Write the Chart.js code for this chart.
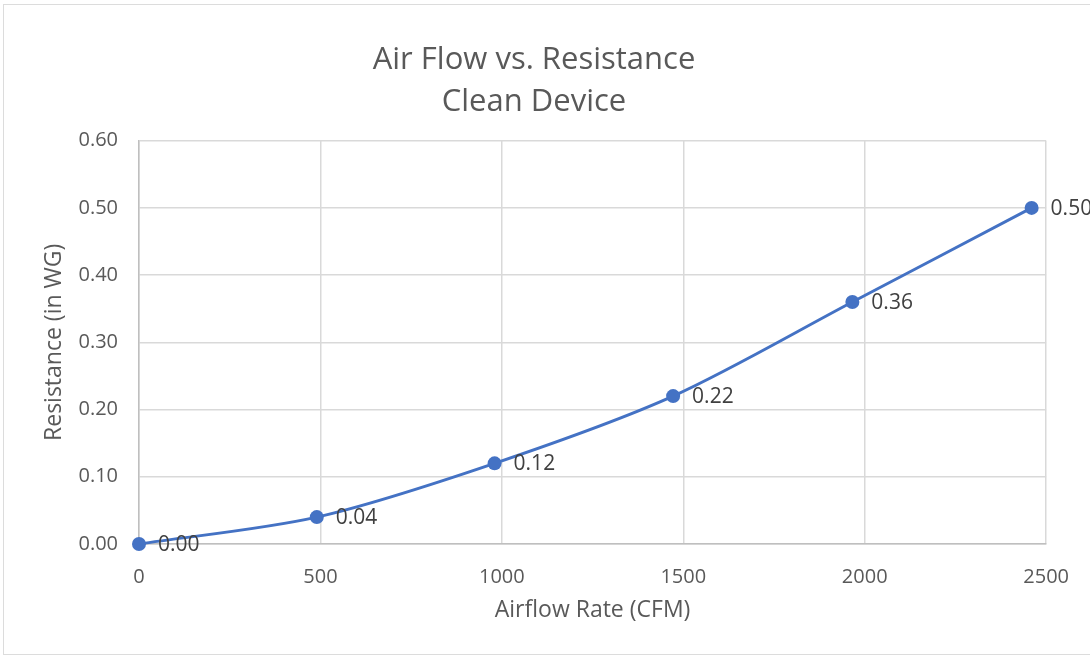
<!DOCTYPE html>
<html>
<head>
<meta charset="utf-8">
<script src="https://cdn.jsdelivr.net/npm/chart.js@4.4.1/dist/chart.umd.min.js"></script>
<style>
  html, body { margin: 0; padding: 0; background: #fff; overflow: hidden; }
  #frame { position: absolute; left: 3px; top: 4px; width: 1200px; height: 651px; border: 1.5px solid #dcdcdc; box-sizing: border-box; }
  #wrap { position: absolute; left: 0; top: 0; width: 1090px; height: 656px; }
</style>
</head>
<body>
<div id="frame"></div>
<div id="wrap"><canvas id="chart"></canvas></div>
<script>
// Air flow vs resistance, clean device
const airflow    = [0, 490, 980, 1472, 1966, 2460];
const resistance = [0.00, 0.04, 0.12, 0.22, 0.36, 0.50];
const titleLines = ['Air Flow vs. Resistance', 'Clean Device'];

const FONT = "'Open Sans', 'Noto Sans', sans-serif";
const BLUE = '#4472c4';
const GREY = '#595959';

// labels to the right of each point, like Excel's data labels
const pointLabels = {
  id: 'pointLabels',
  afterDatasetsDraw(chart) {
    const ctx = chart.ctx;
    const meta = chart.getDatasetMeta(0);
    ctx.save();
    ctx.font = `21px ${FONT}`;
    ctx.fillStyle = '#404040';
    ctx.textAlign = 'left';
    ctx.textBaseline = 'middle';
    meta.data.forEach((pt, i) => {
      ctx.fillText(resistance[i].toFixed(2), pt.x + 19, pt.y + 1);
    });
    ctx.restore();
  }
};

new Chart(document.getElementById('chart'), {
  type: 'line',
  data: {
    datasets: [{
      data: airflow.map((x, i) => ({ x, y: resistance[i] })),
      borderColor: BLUE, backgroundColor: BLUE,
      borderWidth: 3, tension: 0.3, clip: false,
      pointRadius: 7, pointHoverRadius: 7, pointBorderWidth: 0,
    }],
  },
  options: {
    responsive: true, maintainAspectRatio: false, animation: false,
    layout: { padding: { top: 16, left: 0, right: 22, bottom: 18 } },
    plugins: {
      legend: { display: false }, tooltip: { enabled: false },
      title: {
        display: true, text: titleLines, color: GREY,
        font: { family: FONT, size: 31, weight: 'normal', lineHeight: 1.35 },
        padding: { top: 23, bottom: 18 },
      },
    },
    scales: {
      x: {
        type: 'linear', min: 0, max: 2500,
        border: { color: '#bfbfbf', width: 1.5 },
        grid: { color: '#d9d9d9', lineWidth: 1.5, drawTicks: false },
        ticks: { stepSize: 500, padding: 21, color: GREY, font: { family: FONT, size: 20 }, callback: v => String(v) },
        title: { display: true, text: 'Airflow Rate (CFM)', color: GREY, padding: { top: 7, bottom: 14 }, font: { family: FONT, size: 23 } },
        afterFit: s => { s.height = 94; },
      },
      y: {
        min: 0, max: 0.6,
        border: { color: '#bfbfbf', width: 1.5 },
        grid: { color: '#d9d9d9', lineWidth: 1.5, drawTicks: false },
        ticks: { stepSize: 0.1, padding: 21, color: GREY, font: { family: FONT, size: 20 }, callback: v => v.toFixed(2) },
        title: { display: true, text: 'Resistance (in WG)', color: GREY, padding: { top: 41, bottom: 6 }, font: { family: FONT, size: 23 } },
        afterFit: s => { s.width = 139; },
      },
    },
  },
  plugins: [pointLabels],
});
</script>
</body>
</html>
